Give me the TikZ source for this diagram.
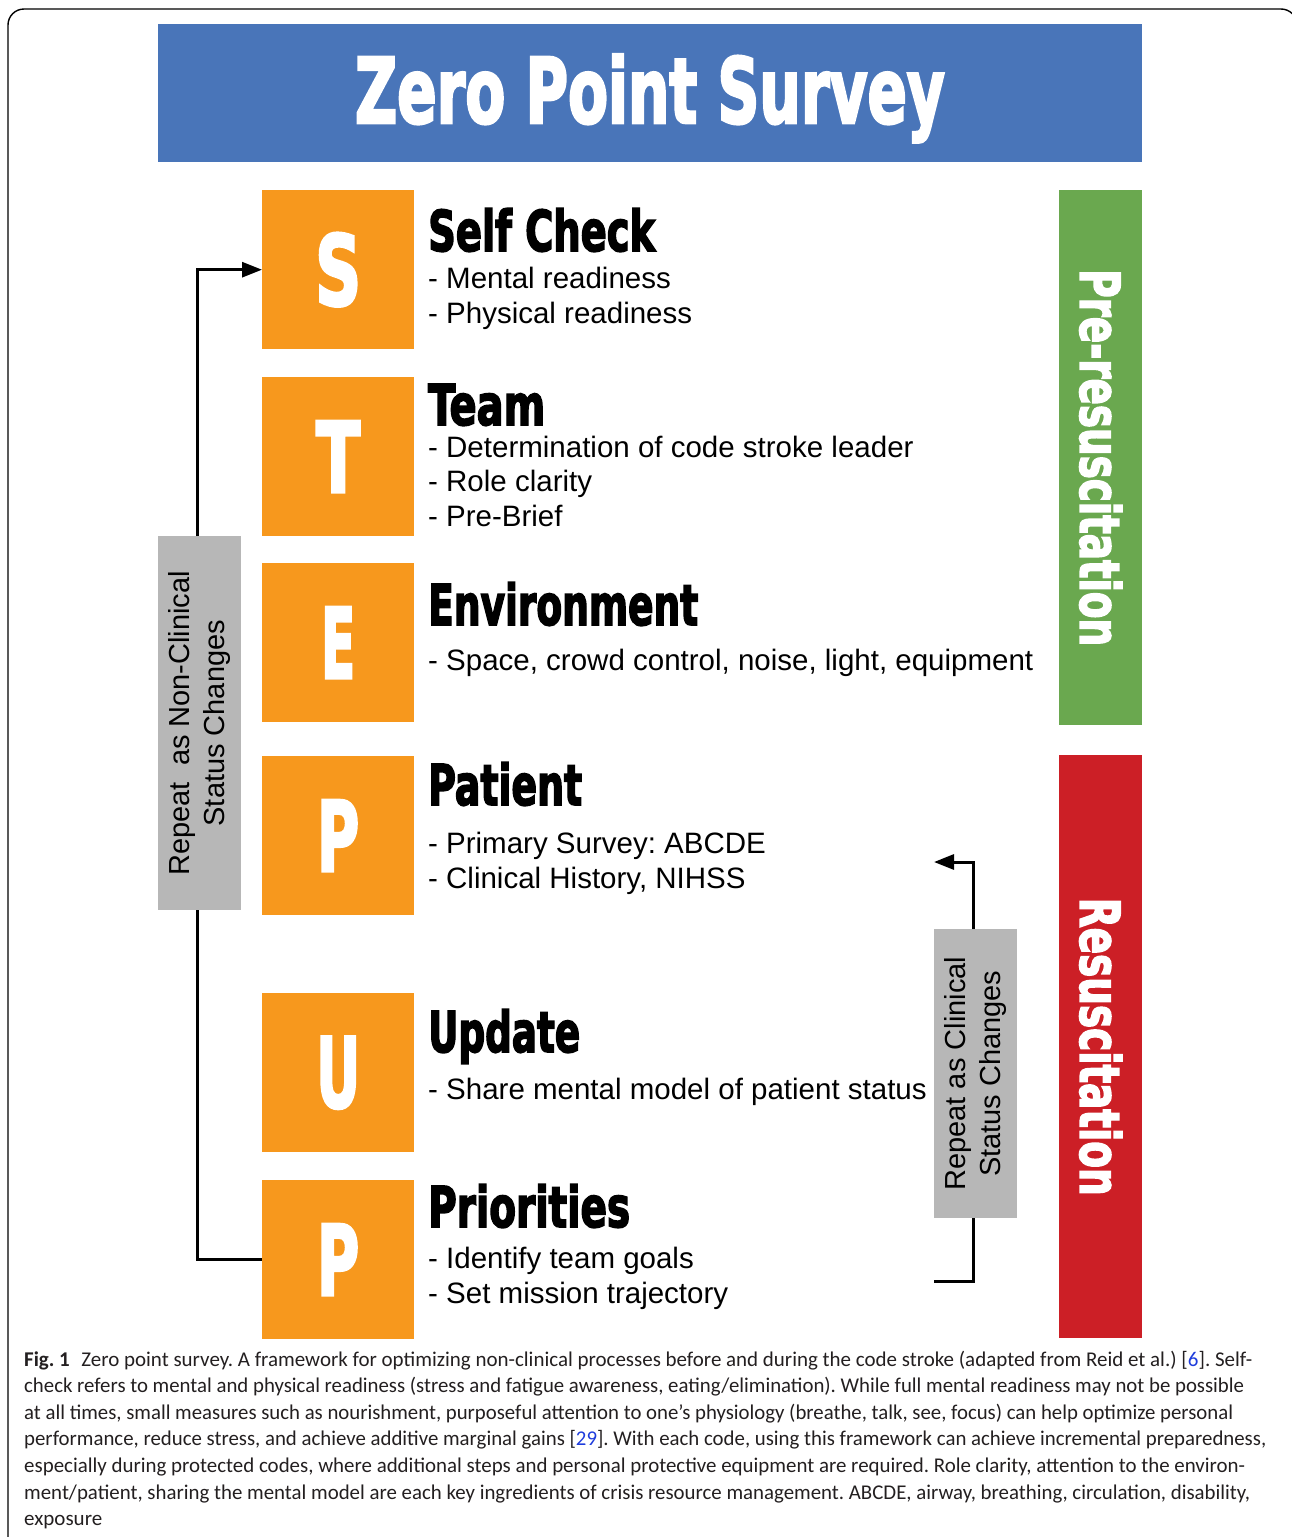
\documentclass[tikz,border=0pt]{standalone}
\usepackage{fontspec}
\usepackage{graphicx}
\usepackage{xcolor}
\setmainfont{Liberation Sans}
\newfontfamily\heavyfont[FakeBold=3]{DejaVu Sans Condensed Bold}
\newfontfamily\capfont{Carlito}
\usetikzlibrary{arrows.meta}
\frenchspacing

\definecolor{bannerblue}{RGB}{73,117,185}
\definecolor{steporange}{RGB}{247,152,29}
\definecolor{preblue}{RGB}{106,168,79}
\definecolor{resred}{RGB}{204,31,38}
\definecolor{repeatgray}{RGB}{183,183,183}
\definecolor{captext}{RGB}{35,31,32}
\definecolor{citeblue}{RGB}{30,60,220}

% heavy condensed lettering scaled to a given width and cap height
\newlength\hvW
\newlength\hvH
\newcommand\heavytext[3]{%
  \settowidth\hvW{\heavyfont #3}\settoheight\hvH{\heavyfont H}%
  \pgfmathsetmacro\hvsx{#1/\hvW}\pgfmathsetmacro\hvsy{#2/\hvH}%
  \scalebox{\hvsx}[\hvsy]{\heavyfont #3}}
% a caption line squeezed to a given width
\newcommand\fitline[2]{%
  \settowidth\hvW{#2}\pgfmathsetmacro\hvsx{#1/\hvW}%
  \scalebox{\hvsx}[1]{#2}}
\newcommand\refnum[1]{[\textcolor{citeblue}{#1}]}

\begin{document}
\begin{tikzpicture}[x=1pt,y=-1pt,
  stepbox/.style={fill=steporange,minimum width=152pt,minimum height=159pt,
    inner sep=0pt,anchor=north west,text=white},
  heading/.style={anchor=base west,inner sep=0pt},
  itemline/.style={anchor=base west,inner sep=0pt,
    font=\fontsize{29.5}{35}\selectfont},
  phasebar/.style={minimum width=83pt,inner sep=0pt,anchor=north west,text=white},
  repeatbox/.style={fill=repeatgray,minimum width=83pt,inner sep=0pt,
    anchor=north west,font=\fontsize{29}{35}\selectfont},
  conn/.style={line width=3pt},
  tip/.style={-{Triangle[length=20pt,width=15pt]}},
  capline/.style={anchor=base west,inner sep=0pt,text=captext,
    font=\capfont\fontsize{21}{26.6}\selectfont}]

\useasboundingbox (0,0) rectangle (1291,1537);

% page frame
\draw[line width=1.4pt,rounded corners=16pt] (8,1570) -- (8,9) -- (1297,9) -- (1297,1570);

% title banner
\node[fill=bannerblue,minimum width=984pt,minimum height=138pt,inner sep=0pt,
  anchor=north west] (banner) at (158,24) {};
\node[anchor=base,inner sep=0pt,text=white] (title) at (650,123)
  {\heavytext{590pt}{66pt}{Zero Point Survey}};

% the six STEP-UP letters
\node[stepbox] (s)  at (262,190)  {\heavytext{46pt}{71pt}{S}};
\node[stepbox] (t)  at (262,377)  {\heavytext{44pt}{71pt}{T}};
\node[stepbox] (e)  at (262,563)  {\heavytext{34pt}{71pt}{E}};
\node[stepbox] (p)  at (262,756)  {\heavytext{42pt}{71pt}{P}};
\node[stepbox] (u)  at (262,993)  {\heavytext{44pt}{71pt}{U}};
\node[stepbox] (p2) at (262,1180) {\heavytext{42pt}{71pt}{P}};

% headings
\node[heading] (hs)  at (428,251)  {\heavytext{227pt}{41pt}{Self Check}};
\node[heading] (ht)  at (428,425)  {\heavytext{117pt}{41pt}{Team}};
\node[heading] (he)  at (428,625)  {\heavytext{270pt}{41pt}{Environment}};
\node[heading] (hp)  at (428,805)  {\heavytext{154pt}{41pt}{Patient}};
\node[heading] (hu)  at (428,1052) {\heavytext{152pt}{41pt}{Update}};
\node[heading] (hp2) at (428,1227) {\heavytext{202pt}{41pt}{Priorities}};

% item lines
\node[itemline] (s1) at (428,288.5)  {- Mental readiness};
\node[itemline] (s2) at (428,323.5)  {- Physical readiness};
\node[itemline] (t1) at (428,457.5)  {- Determination of code stroke leader};
\node[itemline] (t2) at (428,491.5)  {- Role clarity};
\node[itemline] (t3) at (428,526.5)  {- Pre-Brief};
\node[itemline] (e1) at (428,670.5)  {- Space, crowd control, noise, light, equipment};
\node[itemline] (p1) at (428,853.5)  {- Primary Survey: ABCDE};
\node[itemline] (p3) at (428,888.5)  {- Clinical History, NIHSS};
\node[itemline] (u1) at (428,1099.5) {- Share mental model of patient status};
\node[itemline] (q1) at (428,1268.5) {- Identify team goals};
\node[itemline] (q2) at (428,1303.5) {- Set mission trajectory};

% phase bars
\node[phasebar,fill=preblue,minimum height=535pt] (pre) at (1059,190)
  {\rotatebox{-90}{\heavytext{377pt}{40pt}{Pre-resuscitation}}};
\node[phasebar,fill=resred,minimum height=583pt] (res) at (1059,755)
  {\rotatebox{-90}{\heavytext{298pt}{40pt}{Resuscitation}}};

% repeat boxes
\node[repeatbox,minimum height=374pt] (gl) at (158,536)
  {\rotatebox{90}{\begin{tabular}{@{}c@{}}Repeat~~as Non-Clinical\\Status Changes\end{tabular}}};
\node[repeatbox,minimum height=289pt] (gr) at (934,929)
  {\rotatebox{90}{\begin{tabular}{@{}c@{}}Repeat as Clinical\\Status Changes\end{tabular}}};

% loops
\draw[conn,tip] ([xshift=-2pt]gl.north) |- (s.west);
\draw[conn] ([xshift=-2pt]gl.south) |- (p2.west);
\coordinate (upend) at (934,862);
\coordinate (downend) at (934,1281);
\draw[conn,tip] ([xshift=-2.5pt]gr.north) |- (upend);
\draw[conn] ([xshift=-2.5pt]gr.south) |- (downend);

% caption
\node[capline] (c1) at (24,1366) {\fitline{1228pt}{\textbf{Fig. 1}\hspace{0.55em}Zero point survey. A framework for optimizing non-clinical processes before and during the code stroke (adapted from Reid et al.) \refnum{6}. Self-}};
\node[capline] (c2) at (24,1392.6) {\fitline{1220pt}{check refers to mental and physical readiness (stress and fatigue awareness, eating/elimination). While full mental readiness may not be possible}};
\node[capline] (c3) at (24,1419.2) {\fitline{1209pt}{at all times, small measures such as nourishment, purposeful attention to one’s physiology (breathe, talk, see, focus) can help optimize personal}};
\node[capline] (c4) at (24,1445.8) {\fitline{1242pt}{performance, reduce stress, and achieve additive marginal gains \refnum{29}. With each code, using this framework can achieve incremental preparedness,}};
\node[capline] (c5) at (24,1472.4) {\fitline{1221pt}{especially during protected codes, where additional steps and personal protective equipment are required. Role clarity, attention to the environ-}};
\node[capline] (c6) at (24,1499) {\fitline{1226pt}{ment/patient, sharing the mental model are each key ingredients of crisis resource management. ABCDE, airway, breathing, circulation, disability,}};
\node[capline] (c7) at (24,1525.6) {exposure};
\end{tikzpicture}
\end{document}
